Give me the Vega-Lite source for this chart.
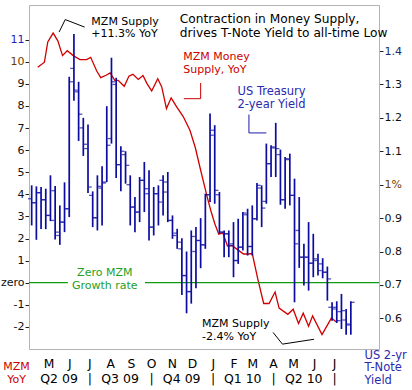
{
  "$schema": "https://vega.github.io/schema/vega-lite/v6.json",
  "width": 350,
  "height": 344,
  "autosize": "none",
  "padding": {"left": 29, "top": 5, "right": 33, "bottom": 41},
  "config": {
    "font": "DejaVu Sans",
    "view": {"stroke": "#b4b4b4", "strokeWidth": 1},
    "axis": {"grid": false}
  },
  "datasets": {
    "bars": [
      {"d": "2009-04-06", "o": 0.958, "h": 0.998, "l": 0.878, "c": 0.946},
      {"d": "2009-04-13", "o": 0.946, "h": 0.995, "l": 0.835, "c": 0.976},
      {"d": "2009-04-20", "o": 0.976, "h": 0.993, "l": 0.867, "c": 0.955},
      {"d": "2009-04-27", "o": 0.955, "h": 0.988, "l": 0.867, "c": 0.908},
      {"d": "2009-05-04", "o": 0.908, "h": 1.028, "l": 0.891, "c": 0.893},
      {"d": "2009-05-11", "o": 0.982, "h": 0.996, "l": 0.836, "c": 0.858},
      {"d": "2009-05-18", "o": 0.848, "h": 0.938, "l": 0.820, "c": 0.888},
      {"d": "2009-05-25", "o": 0.888, "h": 1.007, "l": 0.858, "c": 0.928},
      {"d": "2009-06-01", "o": 0.928, "h": 1.323, "l": 0.903, "c": 1.308},
      {"d": "2009-06-08", "o": 1.348, "h": 1.451, "l": 1.251, "c": 1.283},
      {"d": "2009-06-15", "o": 1.278, "h": 1.308, "l": 1.131, "c": 1.211},
      {"d": "2009-06-22", "o": 1.17, "h": 1.20, "l": 1.086, "c": 1.121},
      {"d": "2009-06-29", "o": 1.108, "h": 1.180, "l": 0.975, "c": 0.993},
      {"d": "2009-07-06", "o": 0.968, "h": 0.980, "l": 0.873, "c": 0.901},
      {"d": "2009-07-13", "o": 0.901, "h": 1.028, "l": 0.863, "c": 0.995},
      {"d": "2009-07-20", "o": 0.990, "h": 1.055, "l": 0.878, "c": 1.005},
      {"d": "2009-07-27", "o": 1.008, "h": 1.235, "l": 1.008, "c": 1.118},
      {"d": "2009-08-03", "o": 1.138, "h": 1.38, "l": 1.123, "c": 1.308},
      {"d": "2009-08-10", "o": 1.30, "h": 1.32, "l": 1.02, "c": 1.06},
      {"d": "2009-08-17", "o": 1.06, "h": 1.115, "l": 0.98, "c": 1.10},
      {"d": "2009-08-24", "o": 1.09, "h": 1.10, "l": 1.003, "c": 1.058},
      {"d": "2009-08-31", "o": 1.00, "h": 1.028, "l": 0.878, "c": 0.933},
      {"d": "2009-09-07", "o": 0.933, "h": 0.963, "l": 0.858, "c": 0.918},
      {"d": "2009-09-14", "o": 0.918, "h": 1.023, "l": 0.888, "c": 1.013},
      {"d": "2009-09-21", "o": 1.013, "h": 1.068, "l": 0.918, "c": 0.988},
      {"d": "2009-09-28", "o": 0.973, "h": 1.043, "l": 0.833, "c": 0.873},
      {"d": "2009-10-05", "o": 0.873, "h": 0.993, "l": 0.848, "c": 0.973},
      {"d": "2009-10-12", "o": 0.973, "h": 0.998, "l": 0.878, "c": 0.948},
      {"d": "2009-10-19", "o": 1.013, "h": 1.028, "l": 0.908, "c": 0.978},
      {"d": "2009-10-26", "o": 1.008, "h": 1.038, "l": 0.888, "c": 0.893},
      {"d": "2009-11-02", "o": 0.893, "h": 0.908, "l": 0.838, "c": 0.848},
      {"d": "2009-11-09", "o": 0.855, "h": 0.868, "l": 0.808, "c": 0.828},
      {"d": "2009-11-16", "o": 0.808, "h": 0.84, "l": 0.67, "c": 0.728},
      {"d": "2009-11-23", "o": 0.728, "h": 0.80, "l": 0.615, "c": 0.68},
      {"d": "2009-11-30", "o": 0.68, "h": 0.863, "l": 0.644, "c": 0.845},
      {"d": "2009-12-07", "o": 0.80, "h": 0.873, "l": 0.69, "c": 0.833},
      {"d": "2009-12-14", "o": 0.833, "h": 0.90, "l": 0.75, "c": 0.82},
      {"d": "2009-12-21", "o": 0.82, "h": 0.973, "l": 0.808, "c": 0.97},
      {"d": "2009-12-28", "o": 0.97, "h": 1.213, "l": 0.948, "c": 1.148},
      {"d": "2010-01-04", "o": 1.163, "h": 1.178, "l": 0.943, "c": 0.983},
      {"d": "2010-01-11", "o": 0.97, "h": 0.978, "l": 0.853, "c": 0.858},
      {"d": "2010-01-18", "o": 0.858, "h": 0.863, "l": 0.783, "c": 0.853},
      {"d": "2010-01-25", "o": 0.853, "h": 0.863, "l": 0.783, "c": 0.818},
      {"d": "2010-02-01", "o": 0.823, "h": 0.888, "l": 0.723, "c": 0.773},
      {"d": "2010-02-08", "o": 0.773, "h": 0.898, "l": 0.763, "c": 0.813},
      {"d": "2010-02-15", "o": 0.813, "h": 0.918, "l": 0.803, "c": 0.915},
      {"d": "2010-02-22", "o": 0.91, "h": 0.928, "l": 0.788, "c": 0.815},
      {"d": "2010-03-01", "o": 0.815, "h": 0.938, "l": 0.788, "c": 0.898},
      {"d": "2010-03-08", "o": 0.898, "h": 1.005, "l": 0.893, "c": 0.998},
      {"d": "2010-03-15", "o": 0.99, "h": 0.998, "l": 0.873, "c": 0.93},
      {"d": "2010-03-22", "o": 0.95, "h": 1.123, "l": 0.943, "c": 1.063},
      {"d": "2010-03-29", "o": 1.063, "h": 1.118, "l": 1.023, "c": 1.113},
      {"d": "2010-04-05", "o": 1.11, "h": 1.185, "l": 1.023, "c": 1.108},
      {"d": "2010-04-12", "o": 1.09, "h": 1.105, "l": 0.94, "c": 0.955},
      {"d": "2010-04-19", "o": 0.955, "h": 1.083, "l": 0.928, "c": 1.078},
      {"d": "2010-04-26", "o": 1.075, "h": 1.093, "l": 0.938, "c": 0.968},
      {"d": "2010-05-03", "o": 0.968, "h": 1.018, "l": 0.648, "c": 0.823},
      {"d": "2010-05-10", "o": 0.863, "h": 0.963, "l": 0.751, "c": 0.783},
      {"d": "2010-05-17", "o": 0.783, "h": 0.823, "l": 0.698, "c": 0.783},
      {"d": "2010-05-24", "o": 0.783, "h": 0.888, "l": 0.683, "c": 0.765},
      {"d": "2010-05-31", "o": 0.765, "h": 0.853, "l": 0.723, "c": 0.778},
      {"d": "2010-06-07", "o": 0.773, "h": 0.793, "l": 0.728, "c": 0.743},
      {"d": "2010-06-14", "o": 0.763, "h": 0.78, "l": 0.72, "c": 0.738},
      {"d": "2010-06-21", "o": 0.738, "h": 0.755, "l": 0.653, "c": 0.718},
      {"d": "2010-06-28", "o": 0.633, "h": 0.648, "l": 0.593, "c": 0.628},
      {"d": "2010-07-05", "o": 0.633, "h": 0.651, "l": 0.586, "c": 0.593},
      {"d": "2010-07-12", "o": 0.62, "h": 0.673, "l": 0.568, "c": 0.623},
      {"d": "2010-07-19", "o": 0.595, "h": 0.628, "l": 0.551, "c": 0.583},
      {"d": "2010-07-26", "o": 0.58, "h": 0.651, "l": 0.551, "c": 0.648}
    ]
  },
  "resolve": {"scale": {"x": "independent", "y": "independent", "color": "independent"}},
  "layer": [
    {
      "data": {"values": [
        {"d": "2009-04-15", "v": 9.75}, {"d": "2009-04-25", "v": 9.98}, {"d": "2009-04-30", "v": 10.9},
        {"d": "2009-05-08", "v": 11.3}, {"d": "2009-05-15", "v": 10.95}, {"d": "2009-05-22", "v": 10.28},
        {"d": "2009-05-29", "v": 10.5}, {"d": "2009-06-07", "v": 10.28}, {"d": "2009-06-17", "v": 10.1},
        {"d": "2009-06-27", "v": 10.1}, {"d": "2009-07-03", "v": 10.2}, {"d": "2009-07-12", "v": 9.58},
        {"d": "2009-07-18", "v": 9.28}, {"d": "2009-07-26", "v": 9.39}, {"d": "2009-08-01", "v": 9.5},
        {"d": "2009-08-08", "v": 9.16}, {"d": "2009-08-13", "v": 9.16}, {"d": "2009-08-22", "v": 8.89},
        {"d": "2009-08-29", "v": 9.35}, {"d": "2009-09-04", "v": 9.43}, {"d": "2009-09-12", "v": 9.2},
        {"d": "2009-09-19", "v": 9.38}, {"d": "2009-09-25", "v": 9.01}, {"d": "2009-10-02", "v": 8.68},
        {"d": "2009-10-11", "v": 9.23}, {"d": "2009-10-17", "v": 8.86}, {"d": "2009-10-24", "v": 7.88},
        {"d": "2009-10-31", "v": 8.37}, {"d": "2009-11-08", "v": 7.97}, {"d": "2009-11-18", "v": 7.52},
        {"d": "2009-11-28", "v": 6.9}, {"d": "2009-12-06", "v": 6.12}, {"d": "2009-12-14", "v": 5.09},
        {"d": "2009-12-20", "v": 4.35}, {"d": "2009-12-24", "v": 3.85}, {"d": "2009-12-29", "v": 3.28},
        {"d": "2010-01-04", "v": 2.68}, {"d": "2010-01-10", "v": 2.2}, {"d": "2010-01-16", "v": 2.26},
        {"d": "2010-01-23", "v": 1.66}, {"d": "2010-01-30", "v": 1.68}, {"d": "2010-02-06", "v": 1.52},
        {"d": "2010-02-16", "v": 1.3}, {"d": "2010-02-23", "v": 1.3}, {"d": "2010-03-01", "v": 1.32},
        {"d": "2010-03-09", "v": 0.2}, {"d": "2010-03-18", "v": -0.94}, {"d": "2010-03-26", "v": -0.94},
        {"d": "2010-04-04", "v": -0.42}, {"d": "2010-04-10", "v": -1.15}, {"d": "2010-04-23", "v": -1.43},
        {"d": "2010-05-01", "v": -1.2}, {"d": "2010-05-09", "v": -1.85}, {"d": "2010-05-16", "v": -1.38},
        {"d": "2010-05-24", "v": -1.97}, {"d": "2010-05-30", "v": -1.5}, {"d": "2010-06-13", "v": -2.35},
        {"d": "2010-06-27", "v": -1.6}, {"d": "2010-07-04", "v": -1.77}
      ]},
      "mark": {"type": "line", "color": "#d00000", "strokeWidth": 1.3},
      "encoding": {
        "x": {"field": "d", "type": "temporal",
          "scale": {"type": "utc", "domain": [{"year": 2009, "month": 4, "date": 2, "utc": true}, {"year": 2010, "month": 9, "date": 6, "utc": true}]},
          "axis": {"orient": "bottom", "title": null, "ticks": false, "tickSize": 0, "domain": false,
            "values": [
              {"year": 2009, "month": 5, "date": 1, "utc": true}, {"year": 2009, "month": 6, "date": 1, "utc": true},
              {"year": 2009, "month": 7, "date": 1, "utc": true}, {"year": 2009, "month": 8, "date": 1, "utc": true},
              {"year": 2009, "month": 9, "date": 1, "utc": true}, {"year": 2009, "month": 10, "date": 1, "utc": true},
              {"year": 2009, "month": 11, "date": 1, "utc": true}, {"year": 2009, "month": 12, "date": 1, "utc": true},
              {"year": 2010, "month": 1, "date": 1, "utc": true}, {"year": 2010, "month": 2, "date": 1, "utc": true},
              {"year": 2010, "month": 3, "date": 1, "utc": true}, {"year": 2010, "month": 4, "date": 1, "utc": true},
              {"year": 2010, "month": 5, "date": 1, "utc": true}, {"year": 2010, "month": 6, "date": 1, "utc": true},
              {"year": 2010, "month": 7, "date": 1, "utc": true}
            ],
            "labelExpr": "substring(utcFormat(datum.value, '%b'), 0, 1)",
            "labelFontSize": 12.3, "labelColor": "#000", "labelPadding": 8, "labelBaseline": "top",
            "labelOverlap": false, "labelFlush": false}},
        "y": {"field": "v", "type": "quantitative",
          "scale": {"domain": [-3.0, 12.57], "nice": false, "zero": false},
          "axis": {"orient": "left", "values": [-2, -1, 0, 1, 2, 3, 4, 5, 6, 7, 8, 9, 10, 11],
            "labelExpr": "datum.value == 0 ? 'zero' : '' + datum.value",
            "labelFontSize": 11, "labelPadding": 1, "tickSize": 4, "tickColor": "#222",
            "domainColor": "#b4b4b4", "labelOverlap": false, "labelFlush": false,
            "labelColor": {"condition": [{"test": "datum.value == 11", "value": "#2222bb"}, {"test": "datum.value == 10", "value": "#6b3d00"}], "value": "#111111"},
            "title": ["MZM", "YoY"], "titleAngle": 0, "titleAlign": "center", "titleBaseline": "top",
            "titleX": -13, "titleY": 355, "titleColor": "#cc0000", "titleFontSize": 11,
            "titleFontWeight": "normal", "titleLineHeight": 13.5}}
      }
    },
    {
      "data": {"values": [
        {"d": "2009-04-02", "d2": "2009-05-30", "v": 0},
        {"d": "2009-09-22", "d2": "2010-09-06", "v": 0}
      ]},
      "mark": {"type": "rule", "color": "#139a13", "strokeWidth": 1.2},
      "encoding": {
        "x": {"field": "d", "type": "temporal", "axis": null,
          "scale": {"type": "utc", "domain": [{"year": 2009, "month": 4, "date": 2, "utc": true}, {"year": 2010, "month": 9, "date": 6, "utc": true}]}},
        "x2": {"field": "d2"},
        "y": {"field": "v", "type": "quantitative", "axis": null, "scale": {"domain": [-3.0, 12.57], "nice": false, "zero": false}}
      }
    },
    {
      "data": {"values": [
        {"d": "2009-05-17", "v": 11.35, "g": "top", "o": 1}, {"d": "2009-05-26", "v": 11.91, "g": "top", "o": 2}, {"d": "2009-06-24", "v": 11.57, "g": "top", "o": 3},
        {"d": "2009-11-19", "v": 8.33, "g": "mzm", "o": 1}, {"d": "2009-12-14", "v": 8.33, "g": "mzm", "o": 2}, {"d": "2009-12-14", "v": 9.04, "g": "mzm", "o": 3},
        {"d": "2010-02-24", "v": 7.61, "g": "ust", "o": 1}, {"d": "2010-02-24", "v": 6.78, "g": "ust", "o": 2}, {"d": "2010-03-22", "v": 6.78, "g": "ust", "o": 3},
        {"d": "2010-04-01", "v": -2.25, "g": "bottom", "o": 1}, {"d": "2010-04-15", "v": -2.78, "g": "bottom", "o": 2}, {"d": "2010-06-01", "v": -2.56, "g": "bottom", "o": 3}
      ]},
      "mark": {"type": "line", "strokeWidth": 1},
      "encoding": {
        "x": {"field": "d", "type": "temporal", "axis": null,
          "scale": {"type": "utc", "domain": [{"year": 2009, "month": 4, "date": 2, "utc": true}, {"year": 2010, "month": 9, "date": 6, "utc": true}]}},
        "y": {"field": "v", "type": "quantitative", "axis": null, "scale": {"domain": [-3.0, 12.57], "nice": false, "zero": false}},
        "detail": {"field": "g"},
        "order": {"field": "o"},
        "color": {"field": "g", "type": "nominal", "legend": null,
          "scale": {"domain": ["top", "mzm", "ust", "bottom"], "range": ["#000000", "#cc0000", "#1c1caa", "#000000"]}}
      }
    },
    {
      "data": {"values": [
        {"d": "2009-11-13", "v": 11.92, "t": "Contraction in Money Supply,"},
        {"d": "2009-11-13", "v": 11.29, "t": "drives T-Note Yield to all-time Low"}
      ]},
      "mark": {"type": "text", "align": "left", "baseline": "middle", "fontSize": 12.2, "color": "#000000"},
      "encoding": {
        "x": {"field": "d", "type": "temporal", "axis": null,
          "scale": {"type": "utc", "domain": [{"year": 2009, "month": 4, "date": 2, "utc": true}, {"year": 2010, "month": 9, "date": 6, "utc": true}]}},
        "y": {"field": "v", "type": "quantitative", "axis": null, "scale": {"domain": [-3.0, 12.57], "nice": false, "zero": false}},
        "text": {"field": "t"}
      }
    },
    {
      "data": {"values": [
        {"d": "2009-07-04", "v": 11.79, "t": "MZM Supply"},
        {"d": "2009-07-04", "v": 11.27, "t": "+11.3% YoY"},
        {"d": "2009-12-16", "v": -1.88, "t": "MZM Supply"},
        {"d": "2009-12-16", "v": -2.45, "t": "-2.4% YoY"}
      ]},
      "mark": {"type": "text", "align": "left", "baseline": "middle", "fontSize": 11, "color": "#000000"},
      "encoding": {
        "x": {"field": "d", "type": "temporal", "axis": null,
          "scale": {"type": "utc", "domain": [{"year": 2009, "month": 4, "date": 2, "utc": true}, {"year": 2010, "month": 9, "date": 6, "utc": true}]}},
        "y": {"field": "v", "type": "quantitative", "axis": null, "scale": {"domain": [-3.0, 12.57], "nice": false, "zero": false}},
        "text": {"field": "t"}
      }
    },
    {
      "data": {"values": [
        {"d": "2009-11-18", "v": 10.2, "t": "MZM Money"},
        {"d": "2009-11-18", "v": 9.62, "t": "Supply, YoY"}
      ]},
      "mark": {"type": "text", "align": "left", "baseline": "middle", "fontSize": 11, "color": "#cc0000"},
      "encoding": {
        "x": {"field": "d", "type": "temporal", "axis": null,
          "scale": {"type": "utc", "domain": [{"year": 2009, "month": 4, "date": 2, "utc": true}, {"year": 2010, "month": 9, "date": 6, "utc": true}]}},
        "y": {"field": "v", "type": "quantitative", "axis": null, "scale": {"domain": [-3.0, 12.57], "nice": false, "zero": false}},
        "text": {"field": "t"}
      }
    },
    {
      "data": {"values": [
        {"d": "2010-02-07", "v": 8.63, "t": "US Treasury"},
        {"d": "2010-02-07", "v": 8.03, "t": "2-year Yield"}
      ]},
      "mark": {"type": "text", "align": "left", "baseline": "middle", "fontSize": 11.5, "color": "#2a2ab0"},
      "encoding": {
        "x": {"field": "d", "type": "temporal", "axis": null,
          "scale": {"type": "utc", "domain": [{"year": 2009, "month": 4, "date": 2, "utc": true}, {"year": 2010, "month": 9, "date": 6, "utc": true}]}},
        "y": {"field": "v", "type": "quantitative", "axis": null, "scale": {"domain": [-3.0, 12.57], "nice": false, "zero": false}},
        "text": {"field": "t"}
      }
    },
    {
      "data": {"values": [
        {"d": "2009-07-24", "v": 0.42, "t": "Zero MZM"},
        {"d": "2009-07-24", "v": -0.14, "t": "Growth rate"}
      ]},
      "mark": {"type": "text", "align": "center", "baseline": "middle", "fontSize": 11, "color": "#1f9f1f"},
      "encoding": {
        "x": {"field": "d", "type": "temporal", "axis": null,
          "scale": {"type": "utc", "domain": [{"year": 2009, "month": 4, "date": 2, "utc": true}, {"year": 2010, "month": 9, "date": 6, "utc": true}]}},
        "y": {"field": "v", "type": "quantitative", "axis": null, "scale": {"domain": [-3.0, 12.57], "nice": false, "zero": false}},
        "text": {"field": "t"}
      }
    },
    {
      "data": {"name": "bars"},
      "mark": {"type": "rule", "color": "#0c0ca0", "strokeWidth": 1.7},
      "encoding": {
        "x": {"field": "d", "type": "temporal",
          "scale": {"type": "utc", "domain": [{"year": 2009, "month": 4, "date": 2, "utc": true}, {"year": 2010, "month": 9, "date": 6, "utc": true}]},
          "axis": {"orient": "bottom", "title": null, "ticks": false, "tickSize": 0, "domain": false,
            "values": [
              {"year": 2009, "month": 5, "date": 16, "utc": true}, {"year": 2009, "month": 7, "date": 1, "utc": true},
              {"year": 2009, "month": 8, "date": 15, "utc": true}, {"year": 2009, "month": 10, "date": 1, "utc": true},
              {"year": 2009, "month": 11, "date": 15, "utc": true}, {"year": 2010, "month": 1, "date": 1, "utc": true},
              {"year": 2010, "month": 2, "date": 14, "utc": true}, {"year": 2010, "month": 4, "date": 1, "utc": true},
              {"year": 2010, "month": 5, "date": 16, "utc": true}, {"year": 2010, "month": 7, "date": 1, "utc": true}
            ],
            "labelExpr": "utcdate(datum.value) == 1 ? '|' : 'Q' + utcquarter(datum.value) + ' ' + utcFormat(datum.value, '%y')",
            "labelFontSize": 12.5, "labelColor": "#000", "labelPadding": 23.5, "labelBaseline": "top",
            "labelOverlap": false, "labelFlush": false}},
        "y": {"field": "l", "type": "quantitative",
          "scale": {"domain": [0.5082, 1.5378], "nice": false, "zero": false},
          "axis": {"orient": "right", "values": [0.6, 0.7, 0.8, 0.9, 1, 1.1, 1.2, 1.3, 1.4],
            "labelExpr": "datum.value == 1 ? '1%' : format(datum.value, '.1f')",
            "labelFontSize": 11, "labelPadding": 1, "tickSize": 4, "tickColor": "#222",
            "domainColor": "#b4b4b4", "labelOverlap": false, "labelFlush": false,
            "labelColor": {"condition": [{"test": "datum.value == 1", "value": "#6b3d00"}, {"test": "datum.value == 1.4", "value": "#1a2a70"}], "value": "#111111"},
            "title": ["US 2-yr", "T-Note", "Yield"], "titleAngle": 0, "titleAlign": "left", "titleBaseline": "top",
            "titleX": -15, "titleY": 344, "titleColor": "#2a2ab0", "titleFontSize": 11.5,
            "titleFontWeight": "normal", "titleLineHeight": 12.5}},
        "y2": {"field": "h"}
      }
    },
    {
      "data": {"name": "bars"},
      "mark": {"type": "tick", "orient": "horizontal", "color": "#0c0ca0", "size": 3.5, "thickness": 1.3, "xOffset": -2},
      "encoding": {
        "x": {"field": "d", "type": "temporal", "axis": null,
          "scale": {"type": "utc", "domain": [{"year": 2009, "month": 4, "date": 2, "utc": true}, {"year": 2010, "month": 9, "date": 6, "utc": true}]}},
        "y": {"field": "o", "type": "quantitative", "axis": null, "scale": {"domain": [0.5082, 1.5378], "nice": false, "zero": false}}
      }
    },
    {
      "data": {"name": "bars"},
      "mark": {"type": "tick", "orient": "horizontal", "color": "#0c0ca0", "size": 3.5, "thickness": 1.3, "xOffset": 2},
      "encoding": {
        "x": {"field": "d", "type": "temporal", "axis": null,
          "scale": {"type": "utc", "domain": [{"year": 2009, "month": 4, "date": 2, "utc": true}, {"year": 2010, "month": 9, "date": 6, "utc": true}]}},
        "y": {"field": "c", "type": "quantitative", "axis": null, "scale": {"domain": [0.5082, 1.5378], "nice": false, "zero": false}}
      }
    }
  ]
}
